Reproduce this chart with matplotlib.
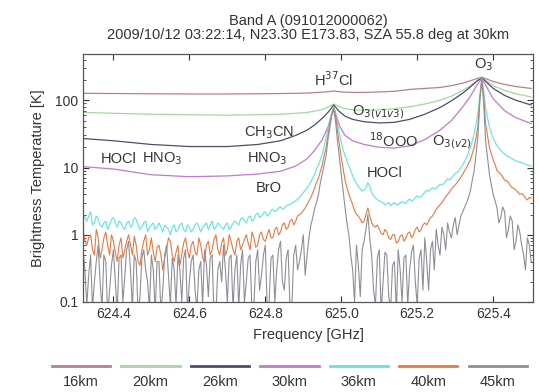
"""Band A limb spectra, brightness temperature vs frequency for 7 tangent heights."""

import numpy as np
import matplotlib
matplotlib.use('Agg')
import matplotlib.pyplot as plt
from matplotlib.lines import Line2D
from matplotlib.offsetbox import (DrawingArea, TextArea, VPacker, HPacker,
                                  AnchoredOffsetbox)

plt.rcParams['font.family'] = ['Liberation Sans', 'DejaVu Sans']

TITLE = ('Band A (091012000062)\n'
         '2009/10/12 03:22:14, N23.30 E173.83, SZA 55.8 deg at 30km')

HEIGHTS = ['16km', '20km', '26km', '30km', '36km', '40km', '45km']
COLORS = ['#bb7d8c', '#a2d99c', '#4d4d6b', '#c479cf', '#5fe3e3', '#e37a45', '#8e8e96']

# smooth spectra (low tangent heights), sampled on a coarse grid [GHz]
FREQ_COARSE = [624.32, 624.40, 624.50, 624.60, 624.70, 624.78, 624.84, 624.88,
               624.91, 624.93, 624.95, 624.965, 624.98, 624.995, 625.01, 625.03,
               625.06, 625.10, 625.14, 625.18, 625.22, 625.26, 625.29, 625.32,
               625.34, 625.355, 625.37, 625.385, 625.40, 625.43, 625.46, 625.50]

tb_16 = [127, 126, 125, 124, 124, 125, 126, 127, 128, 130, 132, 134, 137, 134,
         132, 131, 131, 133, 136, 145, 150, 155, 165, 180, 195, 208, 220, 205,
         190, 172, 160, 150]
tb_20 = [66, 64, 62, 61, 60, 61, 62, 64, 66, 69, 73, 79, 88, 80, 75, 72, 71, 72,
         75, 80, 88, 100, 115, 140, 165, 192, 218, 190, 165, 140, 125, 112]
tb_26 = [27, 25, 22, 20.5, 20.5, 22, 25, 30, 36, 43, 54, 66, 85, 68, 58, 52, 48,
         46, 47, 52, 62, 78, 98, 128, 158, 188, 215, 180, 150, 118, 100, 85]
tb_30 = [10.3, 9.5, 7.8, 7.3, 7.5, 8.0, 8.8, 10.5, 13.5, 18, 26, 40, 80, 42, 30,
         25, 22, 20, 19.5, 21, 26, 36, 50, 80, 115, 160, 212, 150, 105, 70, 55, 45]

# noisy spectra (high tangent heights), one channel every 5 MHz;
# *_even = channels 624.32, 624.33, ...   *_odd = channels 624.325, 624.335, ...
FREQ_FINE = np.linspace(624.32, 625.50, 237)

tb_36_even = [2.0, 1.6, 2.2, 1.5, 1.7, 1.3, 1.6, 1.4, 1.8, 1.3,
              1.5, 1.2, 1.6, 1.4, 1.7, 1.2, 1.5, 1.1, 1.4, 1.2,
              1.5, 1.1, 1.3, 1.0, 1.4, 1.2, 1.5, 1.1, 1.3, 1.2,
              1.5, 1.1, 1.4, 1.2, 1.6, 1.3, 1.4, 1.2, 1.5, 1.3,
              1.6, 1.4, 1.8, 1.5, 1.9, 1.7, 2.1, 1.9, 2.2, 2.0,
              2.4, 2.3, 2.6, 2.5, 2.8, 3.0, 3.2, 3.6, 4.2, 5.0,
              6.2, 8.0, 11, 16, 28, 50, 78, 45, 24, 15,
              10.5, 7.5, 5.8, 4.8, 4.6, 6.0, 4.2, 3.5, 3.2, 3.0,
              2.9, 2.7, 3.0, 2.8, 3.1, 2.9, 3.4, 3.3, 3.8, 3.7,
              4.3, 4.4, 5.0, 4.9, 5.6, 5.8, 6.8, 7.0, 8.2, 9.0,
              11, 14, 20, 32, 65, 210, 75, 40, 27, 21,
              18, 16, 14.5, 13.5, 12.5, 12, 11.5, 11, 10.5]
tb_36_odd = [1.8, 1.9, 1.4, 1.9, 1.4, 1.5, 1.2, 1.7, 1.5, 1.6,
             1.3, 1.5, 1.3, 1.8, 1.4, 1.3, 1.6, 1.3, 1.5, 1.3,
             1.3, 1.4, 1.2, 1.3, 1.1, 1.4, 1.2, 1.4, 1.1, 1.4,
             1.3, 1.3, 1.5, 1.4, 1.2, 1.5, 1.3, 1.4, 1.2, 1.5,
             1.5, 1.7, 1.6, 1.8, 1.6, 2.0, 1.8, 2.1, 1.9, 2.3,
             2.2, 2.5, 2.4, 2.7, 2.8, 3.1, 3.4, 3.9, 4.6, 5.5,
             7.0, 9.5, 13, 21, 38, 66, 62, 32, 18, 12.5,
             9.0, 6.5, 5.2, 4.5, 5.0, 5.2, 3.8, 3.3, 3.1, 2.8,
             3.0, 2.9, 2.8, 3.0, 3.0, 3.2, 3.2, 3.6, 3.6, 4.0,
             4.6, 4.7, 4.8, 5.3, 5.5, 6.3, 6.5, 7.6, 8.5, 10,
             12.5, 17, 25, 45, 120, 140, 55, 32, 24, 19.5,
             17, 15, 14, 13, 12.2, 11.8, 11.2, 10.8]

tb_40_even = [1.2, 0.7, 1.0, 0.5, 0.9, 0.6, 1.1, 0.5, 0.8, 0.4,
              0.9, 0.6, 1.0, 0.5, 0.7, 0.35, 0.8, 0.5, 0.9, 0.4,
              0.7, 0.3, 0.6, 0.8, 0.4, 0.7, 0.5, 0.9, 0.45, 0.8,
              0.5, 0.7, 0.4, 0.8, 0.6, 1.0, 0.5, 0.9, 0.6, 0.8,
              0.5, 0.9, 0.7, 1.0, 0.6, 0.9, 0.7, 1.1, 0.8, 1.2,
              0.9, 1.3, 1.1, 1.5, 1.3, 1.7, 1.6, 2.0, 2.3, 2.8,
              3.6, 5.0, 7.0, 11, 20, 45, 76, 35, 14, 6.5,
              4.0, 2.8, 2.0, 1.7, 1.6, 2.5, 1.5, 1.3, 1.2, 1.0,
              1.1, 0.85, 1.0, 0.8, 1.0, 0.9, 1.1, 1.0, 1.3, 1.2,
              1.5, 1.6, 1.9, 2.4, 2.8, 3.3, 4.0, 4.8, 5.5, 6.5,
              8.0, 10, 13, 20, 42, 205, 45, 20, 13, 9,
              8.0, 6.5, 6.0, 5.0, 4.6, 4.0, 3.9, 3.3, 3.5]
tb_40_odd = [0.8, 0.9, 0.6, 1.2, 0.45, 0.9, 0.7, 1.0, 0.55, 0.7,
             0.45, 0.8, 0.7, 0.95, 0.4, 0.6, 1.0, 0.6, 0.55, 0.65,
             0.5, 0.45, 0.9, 0.5, 0.55, 0.35, 0.75, 0.6, 0.7, 0.55,
             0.9, 0.45, 0.7, 0.5, 0.85, 0.6, 0.75, 0.5, 1.0, 0.6,
             0.8, 0.6, 0.85, 0.75, 1.1, 0.65, 1.0, 0.85, 1.0, 0.9,
             1.2, 1.0, 1.4, 1.2, 1.6, 1.4, 1.9, 2.1, 2.5, 3.2,
             4.2, 6.0, 8.8, 15, 30, 62, 58, 22, 9.5, 5.0,
             3.3, 2.3, 1.9, 1.5, 2.0, 1.9, 1.35, 1.4, 1.05, 1.2,
             0.9, 1.0, 0.75, 0.95, 0.8, 1.05, 0.9, 1.2, 1.1, 1.4,
             1.4, 1.8, 2.1, 2.6, 3.0, 3.7, 4.3, 5.2, 6.0, 7.2,
             9.0, 11.5, 16, 28, 110, 110, 30, 16, 11, 8.5,
             7.2, 6.4, 5.4, 4.9, 4.3, 4.1, 3.5, 3.6]

tb_45_even = [0.6, 0.09, 0.5, 0.2, 0.7, 0.08, 0.4, 0.15, 0.6, 0.07,
              0.5, 0.25, 0.8, 0.08, 0.4, 0.12, 0.6, 0.2, 0.5, 0.07,
              0.4, 0.15, 0.7, 0.09, 0.3, 0.5, 0.1, 0.6, 0.2, 0.5,
              0.08, 0.4, 0.6, 0.12, 0.5, 0.07, 0.4, 0.7, 0.1, 0.5,
              0.3, 0.08, 0.6, 0.2, 0.5, 0.09, 0.6, 0.25, 0.7, 0.1,
              0.5, 0.3, 0.8, 0.15, 0.6, 0.09, 0.7, 0.4, 1.0, 0.5,
              1.4, 2.5, 4.0, 8.0, 15, 40, 74, 25, 8, 2.5,
              1.0, 0.3, 0.7, 0.12, 0.8, 2.0, 0.5, 0.09, 0.6, 0.2,
              0.5, 0.08, 0.4, 0.6, 0.1, 0.5, 0.3, 0.7, 0.09, 0.6,
              0.9, 0.15, 0.8, 1.2, 0.5, 1.0, 1.5, 0.9, 1.8, 1.4,
              2.2, 3.0, 4.5, 9, 30, 200, 25, 8, 4, 2.5,
              1.8, 2.2, 1.2, 1.6, 0.8, 1.1, 0.5, 0.9, 0.4]
tb_45_odd = [0.3, 0.25, 0.08, 0.4, 0.2, 0.5, 0.06, 0.35, 0.2, 0.45,
             0.1, 0.6, 0.3, 0.5, 0.07, 0.45, 0.3, 0.08, 0.3, 0.4,
             0.07, 0.5, 0.25, 0.45, 0.09, 0.3, 0.45, 0.07, 0.4, 0.15,
             0.3, 0.09, 0.35, 0.45, 0.06, 0.3, 0.2, 0.3, 0.45, 0.08,
             0.5, 0.35, 0.1, 0.45, 0.07, 0.4, 0.15, 0.5, 0.08, 0.45,
             0.1, 0.6, 0.2, 0.45, 0.08, 0.5, 0.3, 0.6, 0.25, 0.9,
             1.8, 3.0, 6.0, 11, 26, 60, 48, 14, 4.5, 1.5,
             0.5, 0.1, 0.35, 0.6, 1.2, 0.9, 0.15, 0.45, 0.07, 0.55,
             0.12, 0.35, 0.07, 0.3, 0.45, 0.09, 0.55, 0.2, 0.45, 0.15,
             0.4, 0.6, 0.3, 0.7, 1.3, 0.6, 1.1, 1.4, 1.0, 1.9,
             2.6, 3.6, 6.5, 16, 100, 90, 14, 5.5, 3.2, 1.5,
             2.6, 0.9, 1.9, 0.6, 1.4, 0.7, 0.3, 0.7]

# species labels: (text, freq, Tb, alignment)
SPECIES = [
    ('H$^{37}$Cl', 624.979, 206, 'center'),
    ('O$_3$', 625.376, 333, 'center'),
    ('O$_{3(v1v3)}$', 625.029, 66, 'left'),
    ('$^{18}$OOO', 625.137, 25.3, 'center'),
    ('O$_{3(v2)}$', 625.239, 23.6, 'left'),
    ('HOCl', 625.113, 8.4, 'center'),
    ('CH$_3$CN', 624.811, 33.3, 'center'),
    ('HNO$_3$', 624.805, 13.6, 'center'),
    ('BrO', 624.808, 5.0, 'center'),
    ('HOCl', 624.413, 13.6, 'center'),
    ('HNO$_3$', 624.529, 13.6, 'center'),
]

XTICKS = [624.4, 624.6, 624.8, 625.0, 625.2, 625.4]
XTICKLABELS = ['624.4', '624.6', '624.8', '625.0', '625.2', '625.4']
YTICKS = [0.1, 1, 10, 100]
YTICKLABELS = ['0.1', '1', '10', '100']


def interleave(even, odd):
    out = np.empty(len(even) + len(odd))
    out[0::2] = even
    out[1::2] = odd
    return out


fig = plt.figure(figsize=(5.39, 3.92), dpi=100)
ax = fig.add_axes([0.154, 0.2296, 0.835, 0.633])

series = [(FREQ_COARSE, tb_16, 0.9), (FREQ_COARSE, tb_20, 0.9),
          (FREQ_COARSE, tb_26, 0.9), (FREQ_COARSE, tb_30, 0.9),
          (FREQ_FINE, interleave(tb_36_even, tb_36_odd), 0.8),
          (FREQ_FINE, interleave(tb_40_even, tb_40_odd), 0.8),
          (FREQ_FINE, interleave(tb_45_even, tb_45_odd), 0.8)]
for (f, tb, lw), col in zip(series, COLORS):
    ax.plot(f, tb, color=col, lw=lw)

for txt, f, tb, ha in SPECIES:
    ax.text(f, tb, txt, ha=ha, va='center', fontsize=10.5, color='#333333')

ax.set_yscale('log')
ax.set_xlim(624.32, 625.505)
ax.set_ylim(0.1, 490)
ax.set_xticks(XTICKS, labels=XTICKLABELS)
ax.set_yticks(YTICKS, labels=YTICKLABELS)
ax.tick_params(which='both', direction='in', top=True, right=True,
               labelsize=10, colors='#333333')
ax.tick_params(which='major', length=4)
ax.tick_params(which='minor', length=2)
for sp in ax.spines.values():
    sp.set_color('#555555')
    sp.set_linewidth(0.9)

ax.set_xlabel('Frequency [GHz]', fontsize=10.5, color='#333333', labelpad=5)
ax.set_ylabel('Brightness Temperature [K]', fontsize=10.5, color='#333333',
              labelpad=7)
ax.set_title(TITLE, fontsize=10.5, color='#333333', linespacing=1.0, pad=11)

# legend: short line above each label, in one row
entries = []
for lab, col in zip(HEIGHTS, COLORS):
    da = DrawingArea(42, 3)
    da.add_artist(Line2D([0, 42], [1.5, 1.5], color=col, lw=2))
    ta = TextArea(lab, textprops=dict(fontsize=10.5, color='#333333'))
    entries.append(VPacker(children=[da, ta], align='center', pad=0, sep=5))
row = HPacker(children=entries, align='center', pad=0, sep=8)
leg = AnchoredOffsetbox(loc='center', child=row, pad=0, frameon=False,
                        bbox_to_anchor=(0.537, 0.04),
                        bbox_transform=fig.transFigure)
fig.add_artist(leg)

fig.savefig('out.png', dpi=100)
